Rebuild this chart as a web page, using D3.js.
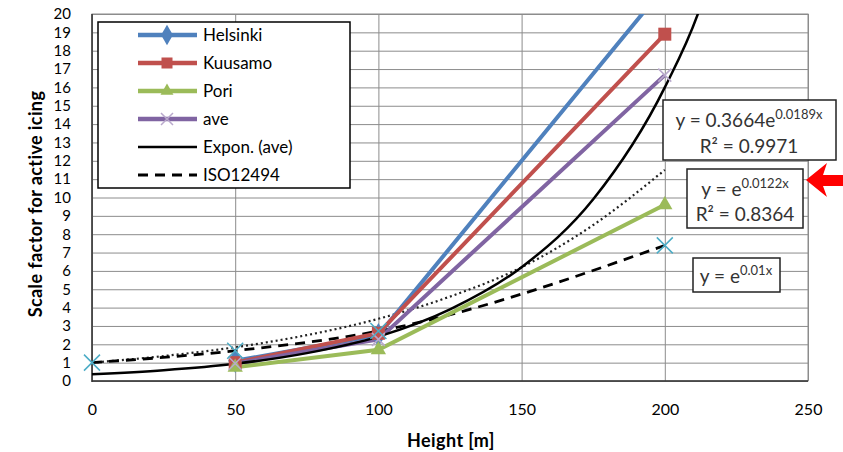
<!DOCTYPE html>
<meta charset="utf-8" />
<style>
  body { margin: 0; background: #fff; }
  text { font-family: Lato, "Open Sans", sans-serif; fill: #000; }
</style>
<body>
  <div id="chart"></div>
  <script src="https://d3js.org/d3.v7.min.js"></script>
  <script>
    // data
    var heights = [50, 100, 200];
    var helsinki = [1.1, 2.5, 21.5];
    var kuusamo = [1.0, 2.6, 18.9];
    var pori = [0.75, 1.7, 9.6];
    var ave = [0.95, 2.27, 16.67];

    // ISO12494 points (cyan x markers, dashed line)
    var isoHeights = [0, 50, 100, 200];
    var iso = [1.0, 1.65, 2.72, 7.39];

    // Expon. (ave) trend line
    var expHeights = [0, 25, 50, 75, 100, 125, 150, 175, 200, 212, 220];
    var expValues = [0.37, 0.59, 0.94, 1.52, 2.42, 3.9, 6.2, 9.9, 16.0, 20.2, 24.3];

    // dotted trend line y = e^0.0122x
    var dotHeights = [0, 25, 50, 75, 100, 125, 150, 175, 200];
    var dotValues = [1.0, 1.36, 1.84, 2.5, 3.39, 4.6, 6.2, 8.5, 11.5];

    var xTicks = [0, 50, 100, 150, 200, 250];
    var yTicks = d3.range(0, 21);

    var W = 843, H = 452;
    var plotL = 92, plotR = 808, plotT = 14, plotB = 381;
    var font = "Lato, 'Open Sans', sans-serif";

    var svg = d3
      .select("#chart")
      .append("svg")
      .attr("width", W)
      .attr("height", H);

    var x = d3.scaleLinear().domain([0, 250]).range([plotL, plotR]);
    var y = d3.scaleLinear().domain([0, 20]).range([plotB, plotT]);

    // horizontal gridlines
    svg
      .append("g")
      .attr("transform", "translate(" + plotL + ",0)")
      .call(d3.axisLeft(y).tickValues(yTicks).tickSize(-(plotR - plotL)).tickFormat(""))
      .call(function(g) {
        g.select(".domain").remove();
        g.selectAll("line").attr("stroke", "#8c8c8c").attr("stroke-width", 1);
      });

    // vertical gridlines
    svg
      .append("g")
      .attr("transform", "translate(0," + plotB + ")")
      .call(d3.axisBottom(x).tickValues(xTicks).tickSize(-(plotB - plotT)).tickFormat(""))
      .call(function(g) {
        g.select(".domain").remove();
        g.selectAll("line").attr("stroke", "#8c8c8c").attr("stroke-width", 1);
      });

    // plot frame
    svg
      .append("rect")
      .attr("x", plotL)
      .attr("y", plotT)
      .attr("width", plotR - plotL)
      .attr("height", plotB - plotT)
      .attr("fill", "none")
      .attr("stroke", "#8c8c8c");
    svg
      .append("line")
      .attr("x1", plotL).attr("x2", plotL)
      .attr("y1", plotT).attr("y2", plotB + 1)
      .attr("stroke", "#333")
      .attr("stroke-width", 1.5);
    svg
      .append("line")
      .attr("x1", plotL).attr("x2", plotR)
      .attr("y1", plotB).attr("y2", plotB)
      .attr("stroke", "#333")
      .attr("stroke-width", 1.5);

    // tick labels
    svg
      .append("g")
      .attr("transform", "translate(" + plotL + ",0)")
      .call(d3.axisLeft(y).tickValues(yTicks).tickSize(0).tickPadding(21))
      .call(function(g) {
        g.select(".domain").remove();
        g.selectAll("text")
          .style("font-family", font)
          .style("font-size", "15px")
          .attr("fill", "#000");
      });

    svg
      .append("g")
      .attr("transform", "translate(0," + plotB + ")")
      .call(d3.axisBottom(x).tickValues(xTicks).tickSize(0).tickPadding(23))
      .call(function(g) {
        g.select(".domain").remove();
        g.selectAll("text")
          .style("font-family", font)
          .style("font-size", "16px")
          .attr("fill", "#000");
      });

    // axis titles
    svg
      .append("text")
      .attr("transform", "translate(42,204) rotate(-90)")
      .attr("text-anchor", "middle")
      .style("font-size", "18px")
      .style("font-weight", "bold")
      .style("letter-spacing", "0.4px")
      .text("Scale factor for active icing");

    svg
      .append("text")
      .attr("x", 451)
      .attr("y", 447)
      .attr("text-anchor", "middle")
      .style("font-size", "18px")
      .style("font-weight", "bold")
      .style("letter-spacing", "0.4px")
      .text("Height [m]");

    // clip everything to the plot area
    svg
      .append("defs")
      .append("clipPath")
      .attr("id", "clip")
      .append("rect")
      .attr("x", plotL - 10)
      .attr("y", plotT)
      .attr("width", plotR - plotL + 20)
      .attr("height", plotB - plotT + 10);

    var plot = svg.append("g").attr("clip-path", "url(#clip)");

    function pts(xs, ys) {
      return xs.map(function(d, i) { return [d, ys[i]]; });
    }

    var straight = d3.line()
      .x(function(d) { return x(d[0]); })
      .y(function(d) { return y(d[1]); });
    var smooth = d3.line()
      .curve(d3.curveMonotoneX)
      .x(function(d) { return x(d[0]); })
      .y(function(d) { return y(d[1]); });

    // trend lines and ISO
    plot.append("path")
      .attr("d", smooth(pts(dotHeights, dotValues)))
      .attr("fill", "none")
      .attr("stroke", "#222")
      .attr("stroke-width", 2.2)
      .attr("stroke-dasharray", "2,3");

    plot.append("path")
      .attr("d", smooth(pts(isoHeights, iso)))
      .attr("fill", "none")
      .attr("stroke", "#000")
      .attr("stroke-width", 2.8)
      .attr("stroke-dasharray", "10,7");

    var series = [
      { name: "Helsinki", vals: helsinki, color: "#4f81bd", marker: "diamond" },
      { name: "Kuusamo", vals: kuusamo, color: "#c0504d", marker: "square" },
      { name: "Pori", vals: pori, color: "#9bbb59", marker: "triangle" },
      { name: "ave", vals: ave, color: "#8064a2", marker: "x" }
    ];

    series.forEach(function(s) {
      plot.append("path")
        .attr("d", straight(pts(heights, s.vals)))
        .attr("fill", "none")
        .attr("stroke", s.color)
        .attr("stroke-width", 4);
    });

    plot.append("path")
      .attr("d", smooth(pts(expHeights, expValues)))
      .attr("fill", "none")
      .attr("stroke", "#000")
      .attr("stroke-width", 2.5);

    // markers
    function drawMarker(g, type, cx, cy, color, size) {
      if (type === "square") {
        g.append("rect")
          .attr("x", cx - size / 2).attr("y", cy - size / 2)
          .attr("width", size).attr("height", size)
          .attr("fill", color);
      } else if (type === "diamond") {
        g.append("path")
          .attr("d", d3.symbol().type(d3.symbolDiamond).size(size * size)())
          .attr("transform", "translate(" + cx + "," + cy + ")")
          .attr("fill", color);
      } else if (type === "triangle") {
        g.append("path")
          .attr("d", d3.symbol().type(d3.symbolTriangle).size(size * size * 0.6)())
          .attr("transform", "translate(" + cx + "," + cy + ")")
          .attr("fill", color);
      } else if (type === "x") {
        var h = size / 2;
        g.append("path")
          .attr("d", "M" + (cx - h) + "," + (cy - h) + "L" + (cx + h) + "," + (cy + h) +
                     "M" + (cx - h) + "," + (cy + h) + "L" + (cx + h) + "," + (cy - h))
          .attr("stroke", color)
          .attr("stroke-width", 1.5)
          .attr("fill", "none");
      }
    }

    var markerColors = { Helsinki: "#4f81bd", Kuusamo: "#c0504d", Pori: "#9bbb59", ave: "#b9a9cc" };
    series.forEach(function(s) {
      heights.forEach(function(h, i) {
        drawMarker(plot, s.marker, x(h), y(s.vals[i]), markerColors[s.name], 13);
      });
    });

    isoHeights.forEach(function(h, i) {
      drawMarker(plot, "x", x(h), y(iso[i]), "#4bacc6", 16);
    });

    // legend
    var legend = svg.append("g");
    legend.append("rect")
      .attr("x", 98).attr("y", 22)
      .attr("width", 252).attr("height", 166)
      .attr("fill", "#fff")
      .attr("stroke", "#000")
      .attr("stroke-width", 1.5);

    var legendItems = [
      { name: "Helsinki", color: "#4f81bd", marker: "diamond", dash: null, w: 4.5 },
      { name: "Kuusamo", color: "#c0504d", marker: "square", dash: null, w: 4.5 },
      { name: "Pori", color: "#9bbb59", marker: "triangle", dash: null, w: 4.5 },
      { name: "ave", color: "#8064a2", marker: "x", dash: null, w: 4.5 },
      { name: "Expon. (ave)", color: "#000", marker: null, dash: null, w: 2.5 },
      { name: "ISO12494", color: "#000", marker: null, dash: "10,7", w: 2.8 }
    ];

    legendItems.forEach(function(d, i) {
      var ly = 35 + i * 28;
      legend.append("line")
        .attr("x1", 138).attr("x2", 197)
        .attr("y1", ly).attr("y2", ly)
        .attr("stroke", d.color)
        .attr("stroke-width", d.w)
        .attr("stroke-dasharray", d.dash);
      if (d.marker) {
        drawMarker(legend, d.marker, 167, ly, d.marker === "x" ? "#b9a9cc" : d.color, d.marker === "x" ? 12 : 11);
      }
      legend.append("text")
        .attr("x", 203)
        .attr("y", ly)
        .attr("dy", "0.36em")
        .style("font-size", "17px")
        .text(d.name);
    });

    // equation boxes
    function eqBox(bx, by, bw, bh) {
      svg.append("rect")
        .attr("x", bx).attr("y", by)
        .attr("width", bw).attr("height", bh)
        .attr("fill", "#fff")
        .attr("stroke", "#222")
        .attr("stroke-width", 1.5);
    }

    function eqText(cx, ty, base, sup) {
      var t = svg.append("text")
        .attr("x", cx)
        .attr("y", ty)
        .attr("text-anchor", "middle")
        .style("font-size", "19px")
        .style("fill", "#333");
      t.append("tspan").text(base);
      t.append("tspan")
        .attr("dy", -8)
        .style("font-size", "13px")
        .text(sup);
      return t;
    }

    function rText(cx, ty, str) {
      svg.append("text")
        .attr("x", cx)
        .attr("y", ty)
        .attr("text-anchor", "middle")
        .style("font-size", "19px")
        .style("fill", "#333")
        .text(str);
    }

    eqBox(663, 100, 173, 60);
    eqText(749, 127, "y = 0.3664e", "0.0189x");
    rText(749, 153, "R\u00b2 = 0.9971");

    eqBox(687, 169, 116, 59);
    eqText(745, 196, "y = e", "0.0122x");
    rText(745, 221, "R\u00b2 = 0.8364");

    eqBox(693, 258, 87, 34);
    eqText(736, 283, "y = e", "0.01x");

    // red arrow
    svg.append("path")
      .attr("d", "M806,180 L827,163 L823,175 L843,175 L843,186 L823,186 L827,197 Z")
      .attr("fill", "#ff0000");
  </script>
</body>
